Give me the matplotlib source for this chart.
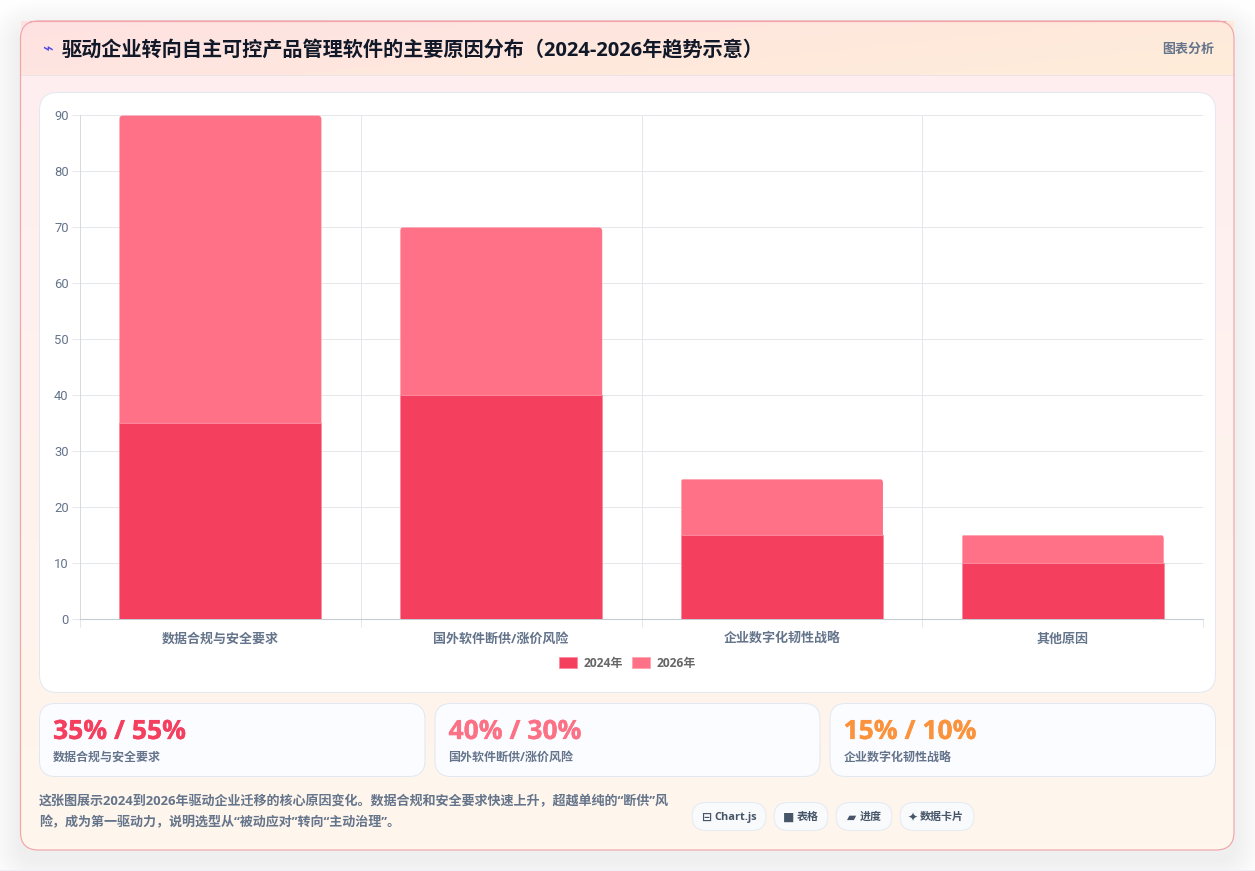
import numpy as np
import matplotlib
matplotlib.use('Agg')
import matplotlib.pyplot as plt
from matplotlib.colors import LinearSegmentedColormap
from matplotlib.patches import FancyBboxPatch, Patch, Rectangle
import matplotlib.patheffects as pe

BOLD = ['Open Sans', 'Noto Sans CJK SC', 'DejaVu Sans']
plt.rcParams['font.family'] = BOLD

W, H = 1255, 871

title = '驱动企业转向自主可控产品管理软件的主要原因分布（2024-2026年趋势示意）'
badge = '图表分析'
categories = ['数据合规与安全要求', '国外软件断供/涨价风险', '企业数字化韧性战略', '其他原因']
series_names = ['2024年', '2026年']
values_2024 = [35, 40, 15, 10]
values_2026 = [55, 30, 10, 5]
stat_values = ['35% / 55%', '40% / 30%', '15% / 10%']
stat_labels = ['数据合规与安全要求', '国外软件断供/涨价风险', '企业数字化韧性战略']
stat_colors = ['#f43f5e', '#fb7185', '#fb923c']
note_lines = ['这张图展示2024到2026年驱动企业迁移的核心原因变化。数据合规和安全要求快速上升，超越单纯的“断供”风',
              '险，成为第一驱动力，说明选型从“被动应对”转向“主动治理”。']
chips = [('⊟', 'Chart.js'), ('■', '表格'), ('▰', '进度'), ('✦', '数据卡片')]


def px(size):
    return size * 0.72


def rounded(ax, x0, y0, x1, y1, r, fc='none', ec='none', lw=0.72, alpha=None, zorder=1):
    box = FancyBboxPatch((x0, y0), x1 - x0, y1 - y0, boxstyle=f'round,pad=0,rounding_size={r}',
                         fc=fc, ec=ec, lw=lw, alpha=alpha, zorder=zorder)
    ax.add_patch(box)
    return box


def gradient(ax, x0, y0, x1, y1, c0, c1, zorder=1):
    cmap = LinearSegmentedColormap.from_list('g', [c0, c1])
    xx, yy = np.meshgrid(np.linspace(0, 1, 200), np.linspace(0, 1, 200))
    return ax.imshow(0.7 * xx + 0.3 * yy, cmap=cmap, extent=(x0, x1, y1, y0), aspect='auto',
                     zorder=zorder, interpolation='bilinear')


fig = plt.figure(figsize=(W / 100, H / 100), dpi=100, facecolor='#fefefe')

bg = fig.add_axes([0, 0, 1, 1], zorder=0)
bg.axis('off')

# soft shadow under the card
for grow in range(30, 0, -2):
    rounded(bg, 20 - grow, 31 - grow, 1234 + grow, 860 + grow, 18 + grow, fc='#1e293b', alpha=0.0045, zorder=0.5)

rounded(bg, 20.5, 21, 1234, 850, 18, ec='#f1a5ab', lw=0.85, zorder=1.5)
card_fill = rounded(bg, 20.5, 21, 1234, 850, 18, fc='white', zorder=0.6)
cmap_card = LinearSegmentedColormap.from_list('card', ['#feeef0', '#fff6ec'])
yy = np.linspace(0, 1, 200)[:, None]
im = bg.imshow(yy * np.ones((200, 2)), cmap=cmap_card, extent=(21, 1234, 850, 21), aspect='auto', zorder=0.7)
im.set_clip_path(card_fill)

# header band
gradient(bg, 21, 21, 1234, 75, '#fee2e3', '#ffedd8', zorder=1)
bg.plot([21, 1234], [75.5, 75.5], color='#ebe4e6', lw=0.72, zorder=1.2)
bg.plot([30, 1225], [21, 21], color='#f1a5ab', lw=0.85, zorder=1.6)
bg.text(47, 50, '⌁', fontsize=px(18), color='#4f46e5', family='DejaVu Sans', ha='center', va='center', zorder=3)
bg.text(61.5, 51, title, fontsize=px(20.2), fontweight='bold', color='#111827', ha='left', va='center', zorder=3)
bg.text(1214, 49, badge, fontsize=px(13), fontweight='bold', color='#64748b', ha='right', va='center', zorder=3)

# chart panel
rounded(bg, 39.5, 92.5, 1215.5, 692.5, 18, fc='white', ec='#e2e8f0', zorder=2)

# stat cards
card_x = [(39.5, 425), (435, 820), (830, 1215.5)]
for (x0, x1), value, label, color in zip(card_x, stat_values, stat_labels, stat_colors):
    rounded(bg, x0, 703.5, x1, 776.5, 16, fc='#fbfcff', ec='#e2e8f0', zorder=2)
    bg.text(x0 + 13.5, 732, value, fontsize=px(26.5), fontweight='bold', color=color, ha='left', va='center', zorder=3,
            path_effects=[pe.withStroke(linewidth=0.2, foreground=color)])
    bg.text(x0 + 13.5, 757, label, fontsize=px(12), fontweight='bold', color='#64748b', ha='left', va='center', zorder=3)

# footer note
for y, line in zip([802, 822], note_lines):
    bg.text(39, y, line, fontsize=px(13.05), fontweight='bold', color='#64748b', ha='left', va='center', zorder=3)

# chips
chip_x = [(692, 766), (774, 828), (836, 892), (900, 974)]
icon_dx = [14.5, 15, 16, 13]
label_dx = [22, 22.7, 24, 20]
for (x0, x1), (icon, label), idx, ldx in zip(chip_x, chips, icon_dx, label_dx):
    rounded(bg, x0, 802.5, x1, 830.5, 14, fc='#f8fafc', ec='#e5ebf2', zorder=2)
    bg.text(x0 + idx, 817, icon, fontsize=px(12), fontweight='bold', color='#475569', family='DejaVu Sans',
            ha='center', va='center', zorder=3)
    bg.text(x0 + ldx, 817, label, fontsize=px(11), fontweight='bold', color='#475569', ha='left', va='center', zorder=3)

# thin strip along the bottom edge of the page
bg.add_patch(Rectangle((0, 869.5), W, 2, fc='#eef0f3', ec='none', zorder=0.55))

bg.set_xlim(0, W)
bg.set_ylim(H, 0)

# bar chart
ax_left, ax_right, ax_top, ax_bottom = 80, 1203, 115.5, 618.5
ax = fig.add_axes([ax_left / W, 1 - ax_bottom / H, (ax_right - ax_left) / W, (ax_bottom - ax_top) / H], zorder=5)
ax.patch.set_alpha(0)

x = np.arange(len(categories))
bar_width = 0.72
v24 = np.array(values_2024)
v26 = np.array(values_2026)

top_bars = ax.bar(x, v26, bar_width, bottom=v24, color='#fe7186', edgecolor='#ffa3b0', linewidth=0.6, zorder=3)
ax.bar(x, v24, bar_width, color='#f43f5e', edgecolor='#fb8c9f', linewidth=0.6, zorder=4)

# small rounded top corners, 4px wide
aspect = (90 / (ax_bottom - ax_top)) / (4 / (ax_right - ax_left))
for bar in top_bars:
    clip = FancyBboxPatch((bar.get_x(), bar.get_y() - 2), bar.get_width(), bar.get_height() + 2,
                          boxstyle='round,pad=0,rounding_size=0.014', mutation_aspect=aspect,
                          fc='none', ec='none', transform=ax.transData)
    ax.add_patch(clip)
    bar.set_clip_path(clip)

ax.set_xlim(-0.5, 3.5)
ax.set_ylim(0, 90)
ax.set_yticks(np.arange(0, 100, 10))
ax.set_xticks(x)
ax.set_xticklabels(categories, fontsize=px(13), fontweight='bold', color='#64748b')
ax.set_xticks(np.arange(-0.5, 4, 1), minor=True)
ax.tick_params(axis='x', which='major', length=0, pad=10)
ax.tick_params(axis='x', which='minor', length=px(8), width=0.72, color='#e5e7eb')
ax.tick_params(axis='y', length=px(8), width=0.72, color='#e5e7eb', labelsize=px(13), labelcolor='#64748b', pad=2.5)
for lab in ax.get_yticklabels():
    lab.set_family('Roboto')
ax.grid(axis='y', color='#e5e7eb', lw=0.72, zorder=0)
ax.grid(axis='x', which='minor', color='#e5e7eb', lw=0.72, zorder=0)
ax.grid(axis='x', which='major', visible=False)
ax.set_axisbelow(True)
for side in ['top', 'right']:
    ax.spines[side].set_visible(False)
ax.spines['left'].set_color('#d5dbe3')
ax.spines['left'].set_linewidth(0.72)
ax.spines['bottom'].set_color('#c5ccd3')
ax.spines['bottom'].set_linewidth(0.8)

handles = [Patch(fc='#f43f5e', ec='#fb8c9f', lw=0.6), Patch(fc='#fe7186', ec='#ffa3b0', lw=0.6)]
ax.legend(handles, series_names, loc='center', bbox_to_anchor=(0.4874, -0.0895), ncol=2, frameon=False,
          handlelength=1.5, handleheight=1.05, handletextpad=0.5, columnspacing=0.78, borderpad=0,
          prop={'size': px(12), 'weight': 'bold'}, labelcolor='#666666')

fig.savefig('out.png', dpi=100, facecolor=fig.get_facecolor())
